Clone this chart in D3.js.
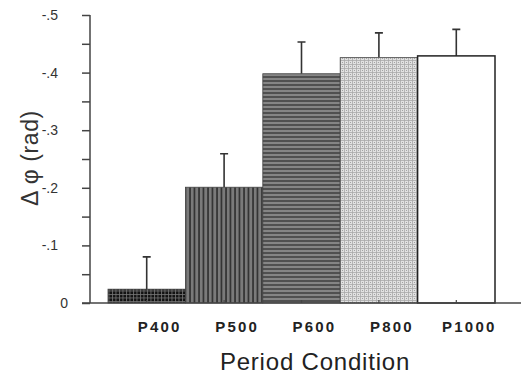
<!DOCTYPE html>
<html>
<head>
<meta charset="utf-8">
<script src="https://cdn.jsdelivr.net/npm/d3@7"></script>
<style>
  body { margin: 0; background: #fff; }
  text { font-family: "Liberation Sans", Arial, sans-serif; }
</style>
</head>
<body>
<div id="chart"></div>
<script>
// données
const conditions = ["P400", "P500", "P600", "P800", "P1000"];
const meanShift = [0.024, 0.201, 0.398, 0.426, 0.429];
const errShift = [0.056, 0.058, 0.055, 0.043, 0.046];
const tickValues = [0, 0.1, 0.2, 0.3, 0.4, 0.5];
const tickLabels = ["0", "-.1", "-.2", "-.3", "-.4", "-.5"];

const W = 521, H = 376;
const margin = { top: 15, right: 0, bottom: 73, left: 90 };

const svg = d3.select("#chart").append("svg")
  .attr("width", W).attr("height", H);

const y = d3.scaleLinear().domain([0, 0.5]).range([H - margin.bottom, margin.top]);
const x = d3.scaleBand().domain(conditions).range([108, 495]).padding(0);

// motifs de remplissage
const defs = svg.append("defs");
function pattern(id, w, h, bg, draw) {
  const p = defs.append("pattern").attr("id", id)
    .attr("patternUnits", "userSpaceOnUse").attr("width", w).attr("height", h);
  p.append("rect").attr("width", w).attr("height", h).attr("fill", bg);
  draw(p);
}
pattern("pGrid", 3.5, 3.5, "#111", p => {
  p.append("path").attr("d", "M0,0.5H3.5M0.5,0V3.5").attr("stroke", "#777").attr("stroke-width", 0.8);
});
pattern("pVert", 4.5, 4, "#7a7a7a", p => {
  p.append("path").attr("d", "M1,0V4").attr("stroke", "#222").attr("stroke-width", 1.4);
});
pattern("pHoriz", 4, 4, "#858585", p => {
  p.append("path").attr("d", "M0,1H4").attr("stroke", "#333").attr("stroke-width", 1.3);
});
pattern("pDots", 4, 4, "#e2e2e2", p => {
  p.append("path").attr("d", "M0,0.5H4M0.5,0V4").attr("stroke", "#aaa").attr("stroke-width", 0.8);
  p.append("circle").attr("cx", 2.5).attr("cy", 2.5).attr("r", 0.6).attr("fill", "#999");
});
const fills = ["url(#pGrid)", "url(#pVert)", "url(#pHoriz)", "url(#pDots)", "#fff"];

const data = conditions.map((c, i) => ({ c: c, m: meanShift[i], e: errShift[i], f: fills[i] }));

// barres d'erreur
svg.selectAll(".err").data(data).enter().append("path")
  .attr("d", d => {
    const cx = x(d.c) + x.bandwidth() / 2;
    return "M" + cx + "," + y(d.m) + "V" + y(d.m + d.e) + "M" + (cx - 4) + "," + y(d.m + d.e) + "H" + (cx + 4);
  })
  .attr("stroke", "#333").attr("stroke-width", 1.6).attr("fill", "none");

// barres
svg.selectAll(".bar").data(data).enter().append("rect")
  .attr("x", d => x(d.c))
  .attr("y", d => y(d.m))
  .attr("width", x.bandwidth())
  .attr("height", d => y(0) - y(d.m))
  .attr("fill", d => d.f)
  .attr("stroke", (d, i) => i === 4 ? "#222" : "#444")
  .attr("stroke-width", (d, i) => i === 4 ? 1.5 : 0.8);

// axe Y
const yAxis = d3.axisLeft(y)
  .tickValues(d3.range(0, 0.5001, 0.05))
  .tickSize(8)
  .tickFormat(d => {
    const k = tickValues.findIndex(v => Math.abs(v - d) < 1e-6);
    return k >= 0 ? tickLabels[k] : "";
  });
const gy = svg.append("g").attr("transform", "translate(" + margin.left + ",0)").call(yAxis);
gy.select(".domain").attr("d", "M0," + y(0.5) + "V" + y(0)).attr("stroke", "#444").attr("stroke-width", 1.5);
gy.selectAll(".tick line").attr("stroke", "#444").attr("stroke-width", 1.5);
gy.selectAll(".tick text")
  .attr("x", d => d < 1e-6 ? -22 : -32)
  .attr("font-size", 14).attr("fill", "#333")
  .style("font-family", "Liberation Sans, Arial, sans-serif");

// axe X
svg.append("line").attr("x1", 82).attr("x2", W).attr("y1", y(0)).attr("y2", y(0))
  .attr("stroke", "#444").attr("stroke-width", 1.5);
svg.selectAll(".xt").data(conditions).enter().append("line")
  .attr("x1", d => x(d) + x.bandwidth() / 2).attr("x2", d => x(d) + x.bandwidth() / 2)
  .attr("y1", y(0)).attr("y2", y(0) - 3).attr("stroke", "#444").attr("stroke-width", 1.2);
svg.selectAll(".xl").data(conditions).enter().append("text")
  .attr("x", d => x(d) + x.bandwidth() / 2 + 13)
  .attr("y", 332)
  .attr("text-anchor", "middle")
  .attr("font-size", 15).attr("font-weight", "bold").attr("fill", "#222")
  .attr("letter-spacing", 2.2)
  .text(d => d);

// titres des axes
svg.append("text").attr("x", 315).attr("y", 370).attr("text-anchor", "middle")
  .attr("font-size", 24).attr("fill", "#222").attr("letter-spacing", 0.8)
  .text("Period Condition");
svg.append("text").attr("transform", "translate(38,158) rotate(-90)")
  .attr("text-anchor", "middle").attr("font-size", 23).attr("fill", "#333")
  .attr("letter-spacing", 0.6)
  .text("Δ φ (rad)");
</script>
</body>
</html>
